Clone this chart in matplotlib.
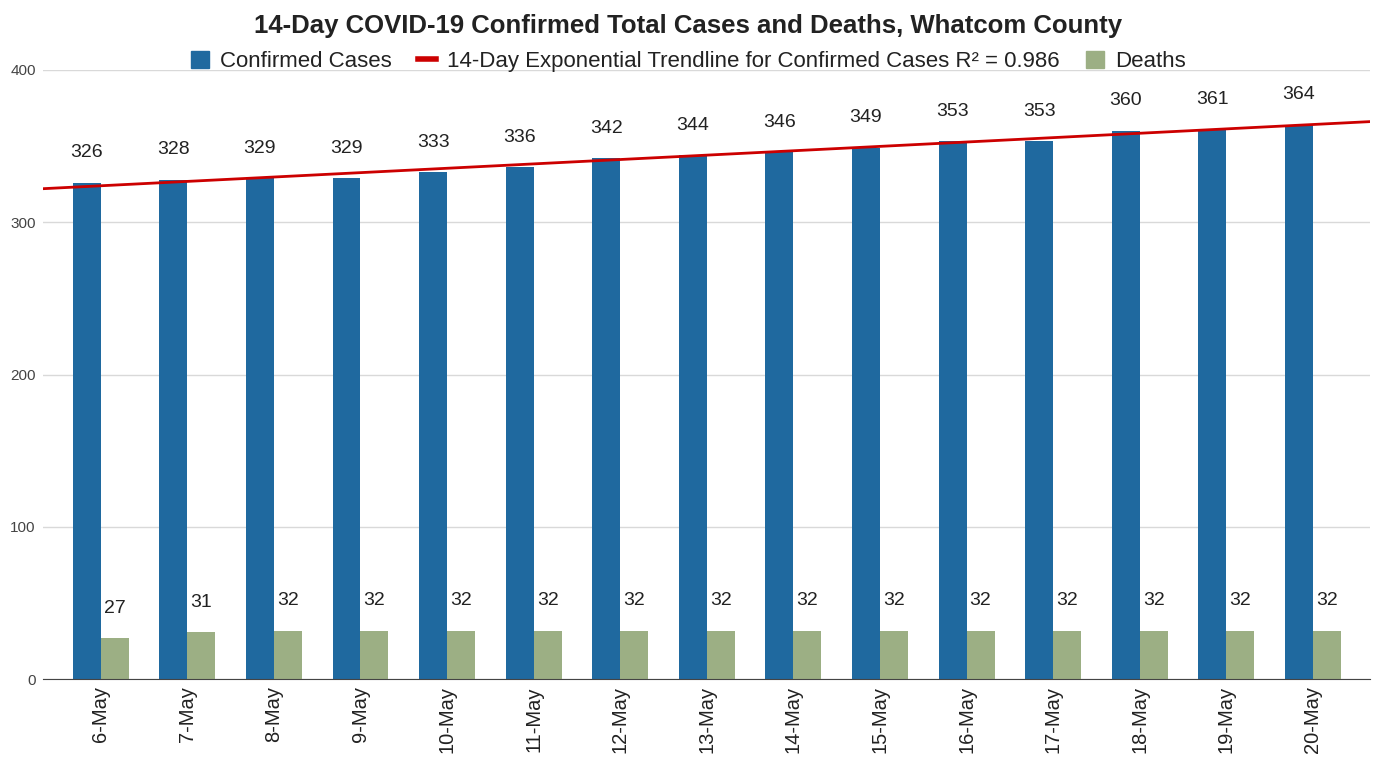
import numpy as np
import matplotlib.pyplot as plt
from matplotlib.lines import Line2D
from matplotlib.patches import Patch

plt.rcParams['font.family'] = ['Liberation Sans', 'DejaVu Sans']

dates = ['6-May', '7-May', '8-May', '9-May', '10-May', '11-May', '12-May', '13-May',
         '14-May', '15-May', '16-May', '17-May', '18-May', '19-May', '20-May']
cases = [326, 328, 329, 329, 333, 336, 342, 344, 346, 349, 353, 353, 360, 361, 364]
deaths = [27, 31, 32, 32, 32, 32, 32, 32, 32, 32, 32, 32, 32, 32, 32]
r2_text = 'R² = 0.986'

blue = '#1f699f'
green = '#9caf84'
red = '#cc0000'
txt = '#222222'

fig = plt.figure(figsize=(13.77, 7.59), dpi=100)
ax = fig.add_axes([0.031, 0.105, 0.964, 0.803])

x = np.arange(len(dates))
w = 0.323
ax.bar(x - w / 2, cases, w, color=blue, zorder=3)
ax.bar(x + w / 2, deaths, w, color=green, zorder=3)

for i in range(len(x)):
    ax.text(x[i] - w / 2, cases[i] + 14, str(cases[i]), ha='center', va='bottom',
            fontsize=14, color=txt)
    ax.text(x[i] + w / 2, deaths[i] + 14, str(deaths[i]), ha='center', va='bottom',
            fontsize=14, color=txt)

# exponential trendline fitted to confirmed cases
b, a = np.polyfit(x, np.log(cases), 1)
xl = np.array([-0.67, 14.66])
ax.plot(xl, np.exp(a + b * xl), color=red, lw=2, zorder=4)

ax.set_xlim(-0.67, 14.66)
ax.set_ylim(0, 400)
ax.set_yticks([0, 100, 200, 300, 400])
ax.set_xticks(x)
ax.set_xticklabels(dates, rotation=90, fontsize=14.5, color=txt)
ax.tick_params(axis='y', labelsize=11, colors='#444444', length=0, pad=5)
ax.tick_params(axis='x', length=0, pad=5)
ax.grid(axis='y', color='#d9d9d9', lw=1, zorder=0)
for s in ['top', 'right', 'left']:
    ax.spines[s].set_visible(False)
ax.spines['bottom'].set_color('#444444')
ax.spines['bottom'].set_zorder(5)

fig.suptitle('14-Day COVID-19 Confirmed Total Cases and Deaths, Whatcom County',
             y=0.982, fontsize=18.5, fontweight='bold', color=txt)

handles = [Patch(color=blue),
           Line2D([0], [0], color=red, lw=4),
           Patch(color=green)]
labels = ['Confirmed Cases',
          '14-Day Exponential Trendline for Confirmed Cases ' + r2_text,
          'Deaths']
fig.legend(handles, labels, loc='center', bbox_to_anchor=(0.5, 0.919), ncol=3,
           frameon=False, fontsize=16, handlelength=0.8, handleheight=0.8,
           handletextpad=0.5, columnspacing=1.2, labelcolor=txt)

fig.savefig('out.png', dpi=100)
